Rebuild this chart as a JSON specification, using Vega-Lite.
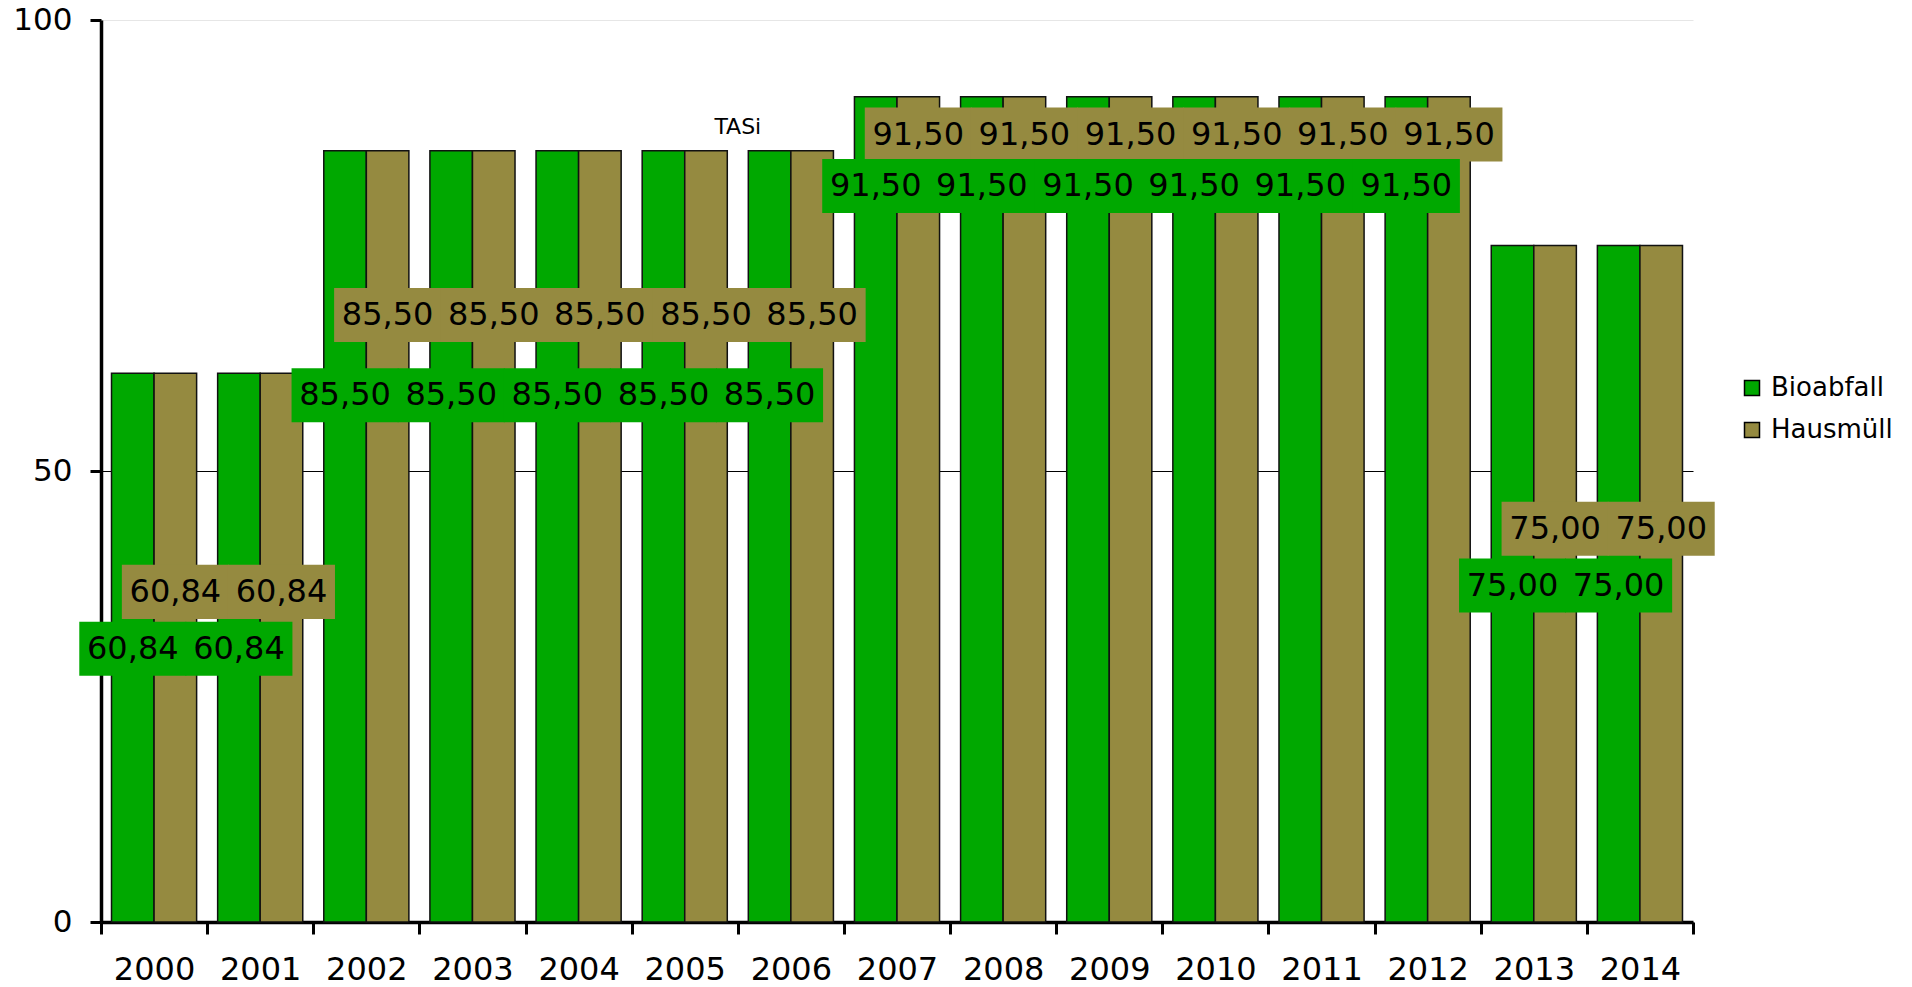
{
  "$schema": "https://vega.github.io/schema/vega-lite/v6.json",
  "width": 1592,
  "height": 902,
  "autosize": {"type": "none"},
  "padding": {"left": 101, "top": 20, "right": 219, "bottom": 65},
  "background": "white",
  "config": {
    "view": {"stroke": null},
    "font": "DejaVu Sans",
    "text": {"font": "DejaVu Sans"}
  },
  "data": {
    "values": [
      {"year": "2000", "series": "Bioabfall", "value": 60.84},
      {"year": "2000", "series": "Hausmüll", "value": 60.84},
      {"year": "2001", "series": "Bioabfall", "value": 60.84},
      {"year": "2001", "series": "Hausmüll", "value": 60.84},
      {"year": "2002", "series": "Bioabfall", "value": 85.5},
      {"year": "2002", "series": "Hausmüll", "value": 85.5},
      {"year": "2003", "series": "Bioabfall", "value": 85.5},
      {"year": "2003", "series": "Hausmüll", "value": 85.5},
      {"year": "2004", "series": "Bioabfall", "value": 85.5},
      {"year": "2004", "series": "Hausmüll", "value": 85.5},
      {"year": "2005", "series": "Bioabfall", "value": 85.5},
      {"year": "2005", "series": "Hausmüll", "value": 85.5},
      {"year": "2006", "series": "Bioabfall", "value": 85.5},
      {"year": "2006", "series": "Hausmüll", "value": 85.5},
      {"year": "2007", "series": "Bioabfall", "value": 91.5},
      {"year": "2007", "series": "Hausmüll", "value": 91.5},
      {"year": "2008", "series": "Bioabfall", "value": 91.5},
      {"year": "2008", "series": "Hausmüll", "value": 91.5},
      {"year": "2009", "series": "Bioabfall", "value": 91.5},
      {"year": "2009", "series": "Hausmüll", "value": 91.5},
      {"year": "2010", "series": "Bioabfall", "value": 91.5},
      {"year": "2010", "series": "Hausmüll", "value": 91.5},
      {"year": "2011", "series": "Bioabfall", "value": 91.5},
      {"year": "2011", "series": "Hausmüll", "value": 91.5},
      {"year": "2012", "series": "Bioabfall", "value": 91.5},
      {"year": "2012", "series": "Hausmüll", "value": 91.5},
      {"year": "2013", "series": "Bioabfall", "value": 75.0},
      {"year": "2013", "series": "Hausmüll", "value": 75.0},
      {"year": "2014", "series": "Bioabfall", "value": 75.0},
      {"year": "2014", "series": "Hausmüll", "value": 75.0}
    ]
  },
  "transform": [
    {"calculate": "replace(format(datum.value, '.2f'), '.', ',')", "as": "label"},
    {"calculate": "datum.series === 'Bioabfall' ? (datum.value < 70 ? 30.3 : datum.value < 80 ? 37.3 : datum.value < 90 ? 58.4 : 81.6) : (datum.value < 70 ? 36.6 : datum.value < 80 ? 43.6 : datum.value < 90 ? 67.3 : 87.3)", "as": "labelAt"}
  ],
  "encoding": {
    "x": {
      "field": "year",
      "type": "nominal",
      "scale": {"paddingInner": 0, "paddingOuter": 0},
      "axis": {
        "title": null,
        "labelAngle": 0,
        "labelFontSize": 32,
        "labelColor": "black",
        "labelFont": "DejaVu Sans",
        "tickBand": "extent",
        "tickSize": 12,
        "tickWidth": 3,
        "tickColor": "black",
        "domainColor": "black",
        "domainWidth": 3.5,
        "labelPadding": 20,
        "grid": false
      }
    }
  },
  "layer": [
    {
      "mark": {"type": "bar", "stroke": "#111111", "strokeWidth": 1.5},
      "encoding": {
        "xOffset": {"field": "series", "type": "nominal", "scale": {"paddingInner": 0, "paddingOuter": 0.247}},
        "y": {
          "field": "value",
          "type": "quantitative",
          "scale": {"domain": [0, 100], "nice": false},
          "axis": {
            "title": null,
            "values": [0, 50, 100],
            "labelFontSize": 31,
            "labelColor": "black",
            "labelFont": "DejaVu Sans",
            "tickSize": 11,
            "tickWidth": 3,
            "tickColor": "black",
            "domainColor": "black",
            "domainWidth": 3.5,
            "labelPadding": 18,
            "grid": true,
            "gridWidth": 1,
            "gridColor": {"condition": {"test": "datum.value === 100", "value": "#e6e6e6"}, "value": "#000000"}
          }
        },
        "color": {
          "field": "series",
          "type": "nominal",
          "scale": {"domain": ["Bioabfall", "Hausmüll"], "range": ["#00A800", "#958A40"]},
          "legend": {
            "orient": "none",
            "legendX": 1638,
            "legendY": 355,
            "title": null,
            "symbolType": "square",
            "symbolSize": 225,
            "symbolStrokeColor": "black",
            "symbolStrokeWidth": 1.5,
            "symbolOpacity": 1,
            "labelFontSize": 26,
            "labelFont": "DejaVu Sans",
            "labelColor": "black",
            "labelOffset": 6,
            "rowPadding": 16,
            "padding": 0
          }
        }
      }
    },
    {
      "transform": [{"filter": "datum.series === 'Hausmüll'"}],
      "mark": {"type": "point", "filled": true, "opacity": 1, "color": "#958A40", "strokeWidth": 0, "size": 11449, "shape": "M-1,-0.505L1,-0.505L1,0.505L-1,0.505Z"},
      "encoding": {
        "xOffset": {"field": "series", "type": "nominal"},
        "y": {"field": "labelAt", "type": "quantitative"}
      }
    },
    {
      "transform": [{"filter": "datum.series === 'Hausmüll'"}],
      "mark": {"type": "text", "fontSize": 32, "color": "black", "align": "center", "baseline": "middle"},
      "encoding": {
        "xOffset": {"field": "series", "type": "nominal"},
        "y": {"field": "labelAt", "type": "quantitative"},
        "text": {"field": "label"}
      }
    },
    {
      "transform": [{"filter": "datum.series === 'Bioabfall'"}],
      "mark": {"type": "point", "filled": true, "opacity": 1, "color": "#00A800", "strokeWidth": 0, "size": 11449, "shape": "M-1,-0.505L1,-0.505L1,0.505L-1,0.505Z"},
      "encoding": {
        "xOffset": {"field": "series", "type": "nominal"},
        "y": {"field": "labelAt", "type": "quantitative"}
      }
    },
    {
      "transform": [{"filter": "datum.series === 'Bioabfall'"}],
      "mark": {"type": "text", "fontSize": 32, "color": "black", "align": "center", "baseline": "middle"},
      "encoding": {
        "xOffset": {"field": "series", "type": "nominal"},
        "y": {"field": "labelAt", "type": "quantitative"},
        "text": {"field": "label"}
      }
    },
    {
      "data": {"values": [{"note": "TASi"}]},
      "mark": {"type": "text", "fontSize": 22, "color": "black", "align": "center", "baseline": "middle"},
      "encoding": {
        "x": {"datum": "2005", "type": "nominal", "bandPosition": 1},
        "y": {"datum": 88.1, "type": "quantitative"},
        "text": {"field": "note"}
      }
    }
  ]
}
